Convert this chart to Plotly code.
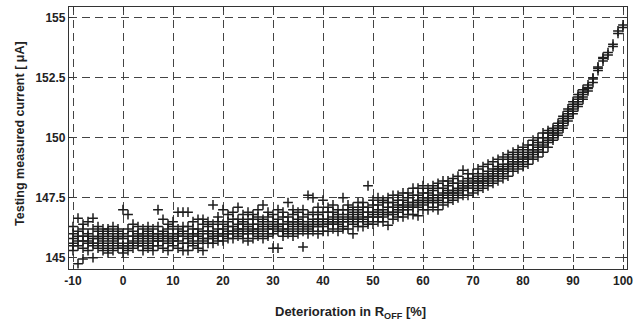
import plotly.graph_objects as go

# Deterioration in R_OFF [%] (x positions) and measured current readings [µA] at each
deterioration = list(range(-10, 101))
current_groups = [
    [145.3, 145.6, 145.8, 146.0, 146.3, 145.5],   # -10
    [144.75, 145.5, 145.9, 146.1, 146.65, 145.7], # -9
    [144.95, 145.4, 145.7, 146.2, 146.4, 145.9],  # -8
    [145.3, 145.6, 145.9, 146.0, 146.5, 145.7],   # -7
    [145.0, 145.5, 145.8, 146.2, 146.65, 145.6],  # -6
    [145.4, 145.6, 145.9, 146.1, 146.3, 145.8],   # -5
    [145.3, 145.5, 145.8, 146.0, 146.2, 145.7],   # -4
    [145.2, 145.6, 145.9, 146.2, 146.1, 145.4],   # -3
    [145.3, 145.7, 145.8, 146.0, 146.3, 145.5],   # -2
    [145.4, 145.6, 145.9, 146.1, 146.2, 145.8],   # -1
    [145.2, 145.5, 145.8, 146.0, 147.0, 145.4],   # 0
    [145.3, 145.6, 145.9, 146.2, 146.8, 145.5],   # 1
    [145.4, 145.7, 145.9, 146.1, 146.4, 145.6],   # 2
    [145.5, 145.8, 146.0, 146.3, 145.6, 145.9],   # 3
    [145.3, 145.7, 145.9, 146.2, 146.0, 145.5],   # 4
    [145.4, 145.6, 145.8, 146.1, 146.3, 145.9],   # 5
    [145.3, 145.7, 145.9, 146.0, 146.2, 145.5],   # 6
    [145.5, 145.8, 146.0, 146.3, 147.0, 145.7],   # 7
    [145.4, 145.7, 145.9, 146.1, 146.6, 146.0],   # 8
    [145.3, 145.6, 145.9, 146.2, 146.4, 145.8],   # 9
    [145.5, 145.8, 146.0, 146.3, 146.5, 145.7],   # 10
    [145.4, 145.7, 146.0, 146.2, 146.9, 145.9],   # 11
    [145.3, 145.6, 145.9, 146.1, 146.9, 146.3],   # 12
    [145.3, 145.8, 146.0, 146.3, 146.9, 145.6],   # 13
    [145.5, 145.7, 146.0, 146.2, 146.5, 145.9],   # 14
    [145.4, 145.6, 145.9, 146.2, 146.6, 146.0],   # 15
    [145.3, 145.8, 146.1, 146.4, 146.6, 145.7],   # 16
    [145.6, 145.8, 146.0, 146.3, 146.5, 146.1],   # 17
    [145.6, 145.9, 146.1, 146.4, 147.2, 145.8],   # 18
    [145.7, 145.9, 146.2, 146.5, 146.7, 146.0],   # 19
    [145.7, 146.0, 146.2, 146.4, 147.0, 145.9],   # 20
    [145.8, 146.0, 146.3, 146.5, 146.8, 146.1],   # 21
    [145.8, 146.1, 146.3, 146.6, 146.9, 146.0],   # 22
    [145.9, 146.1, 146.4, 146.6, 147.1, 146.2],   # 23
    [145.8, 146.0, 146.2, 146.5, 146.8, 146.4],   # 24
    [145.7, 146.0, 146.3, 146.6, 146.9, 146.1],   # 25
    [145.8, 146.1, 146.4, 146.6, 146.8, 146.2],   # 26
    [145.9, 146.2, 146.4, 146.7, 147.0, 146.0],   # 27
    [145.8, 146.1, 146.3, 146.6, 147.2, 146.5],   # 28
    [145.9, 146.2, 146.4, 146.7, 146.9, 146.0],   # 29
    [145.4, 146.0, 146.3, 146.5, 146.8, 146.2],   # 30
    [145.4, 146.1, 146.4, 146.6, 147.0, 146.3],   # 31
    [145.9, 146.2, 146.4, 146.7, 146.9, 146.1],   # 32
    [146.0, 146.2, 146.5, 146.7, 147.3, 146.4],   # 33
    [145.9, 146.3, 146.5, 146.8, 147.0, 146.1],   # 34
    [146.0, 146.2, 146.4, 146.6, 146.9, 146.5],   # 35
    [145.45, 146.1, 146.4, 146.7, 147.0, 146.3],  # 36
    [146.0, 146.3, 146.5, 146.8, 147.6, 146.2],   # 37
    [146.1, 146.3, 146.6, 146.9, 147.5, 146.4],   # 38
    [146.0, 146.3, 146.5, 146.8, 147.1, 146.6],   # 39
    [146.1, 146.4, 146.6, 146.9, 147.4, 146.3],   # 40
    [146.1, 146.4, 146.6, 146.9, 147.1, 146.5],   # 41
    [146.2, 146.5, 146.7, 146.9, 147.2, 146.4],   # 42
    [146.1, 146.4, 146.6, 146.8, 147.0, 146.5],   # 43
    [146.2, 146.5, 146.7, 147.0, 147.5, 146.3],   # 44
    [146.2, 146.5, 146.8, 147.0, 147.2, 146.6],   # 45
    [146.0, 146.4, 146.7, 146.9, 147.1, 146.6],   # 46
    [146.3, 146.6, 146.8, 147.0, 147.3, 146.5],   # 47
    [146.3, 146.6, 146.9, 147.1, 147.3, 146.7],   # 48
    [146.5, 146.7, 146.9, 147.1, 148.0, 146.4],   # 49
    [146.4, 146.7, 146.9, 147.2, 147.4, 146.8],   # 50
    [146.5, 146.7, 147.0, 147.2, 147.5, 146.9],   # 51
    [146.5, 146.8, 147.0, 147.3, 147.4, 146.7],   # 52
    [146.35, 146.8, 147.1, 147.3, 147.5, 146.9],  # 53
    [146.6, 146.9, 147.1, 147.3, 147.6, 146.8],   # 54
    [146.7, 146.9, 147.2, 147.4, 147.6, 147.0],   # 55
    [146.7, 147.0, 147.2, 147.4, 147.7, 147.1],   # 56
    [146.8, 147.0, 147.3, 147.5, 147.7, 147.1],   # 57
    [146.8, 147.1, 147.3, 147.6, 147.9, 147.2],   # 58
    [146.75, 147.1, 147.4, 147.6, 147.9, 147.3],  # 59
    [147.0, 147.2, 147.5, 147.7, 148.0, 147.3],   # 60
    [147.0, 147.3, 147.5, 147.7, 147.9, 147.4],   # 61
    [147.1, 147.3, 147.6, 147.8, 148.0, 147.5],   # 62
    [147.0, 147.4, 147.6, 147.9, 148.1, 147.3],   # 63
    [147.2, 147.5, 147.7, 147.9, 148.2, 147.6],   # 64
    [147.3, 147.5, 147.8, 148.0, 148.2, 147.7],   # 65
    [147.4, 147.6, 147.8, 148.1, 148.3, 147.7],   # 66
    [147.5, 147.7, 147.9, 148.1, 148.4, 147.8],   # 67
    [147.6, 147.8, 148.0, 148.2, 148.65, 147.9],  # 68
    [147.6, 147.9, 148.1, 148.3, 148.5, 148.0],   # 69
    [147.7, 147.9, 148.1, 148.3, 148.5, 148.2],   # 70
    [147.8, 148.0, 148.2, 148.4, 148.7, 148.1],   # 71
    [147.9, 148.1, 148.3, 148.5, 148.8, 148.2],   # 72
    [148.0, 148.2, 148.4, 148.6, 148.9, 148.3],   # 73
    [148.1, 148.3, 148.5, 148.7, 149.0, 148.4],   # 74
    [148.2, 148.4, 148.6, 148.8, 149.1, 148.7],   # 75
    [148.3, 148.5, 148.7, 148.9, 149.2, 148.6],   # 76
    [148.4, 148.7, 148.9, 149.1, 149.3, 148.8],   # 77
    [148.6, 148.8, 149.0, 149.2, 149.4, 148.9],   # 78
    [148.7, 148.9, 149.1, 149.3, 149.5, 149.0],   # 79
    [148.8, 149.0, 149.2, 149.4, 149.6, 149.1],   # 80
    [148.9, 149.1, 149.3, 149.5, 149.7, 149.2],   # 81
    [149.1, 149.3, 149.5, 149.7, 149.9, 149.4],   # 82
    [149.2, 149.4, 149.6, 149.8, 150.0, 149.5],   # 83
    [149.4, 149.6, 149.8, 150.0, 150.2, 149.7],   # 84
    [149.6, 149.8, 150.0, 150.2, 150.3, 149.9],   # 85
    [149.9, 150.0, 150.2, 150.4, 150.1, 150.3],   # 86
    [150.1, 150.3, 150.5, 150.6, 150.4, 150.2],   # 87
    [150.4, 150.6, 150.8, 150.9, 150.7, 150.5],   # 88
    [150.7, 150.9, 151.1, 151.2, 151.0, 150.8],   # 89
    [151.0, 151.2, 151.4, 151.5, 151.3, 151.1],   # 90
    [151.3, 151.5, 151.7, 151.6, 151.4, 151.8],   # 91
    [151.6, 151.8, 151.9, 152.0, 151.7],          # 92
    [151.95, 152.1, 152.2, 152.05],               # 93
    [152.3, 152.45, 152.5],                       # 94
    [152.8, 152.9, 152.95],                       # 95
    [153.2, 153.3, 153.35],                       # 96
    [153.45, 153.55],                             # 97
    [153.8, 153.9],                               # 98
    [154.35, 154.45],                             # 99
    [154.6, 154.7],                               # 100
]

x_ticks = [-10, 0, 10, 20, 30, 40, 50, 60, 70, 80, 90, 100]
y_ticks = [145, 147.5, 150, 152.5, 155]
y_tick_labels = ["145", "147.5", "150", "152.5", "155"]

xs, ys = [], []
for xv, grp in zip(deterioration, current_groups):
    for yv in grp:
        xs.append(xv)
        ys.append(yv)

fig = go.Figure(go.Scatter(
    x=xs, y=ys, mode="markers",
    marker=dict(symbol="cross-thin", size=7, color="#1e1e1e",
                line=dict(width=1.5, color="#1e1e1e")),
    showlegend=False,
))

FAM = "Liberation Sans, Arial, sans-serif"
axis_common = dict(
    showline=True, linecolor="#333", linewidth=1.3, mirror="ticks",
    ticks="inside", ticklen=4, tickcolor="#333",
    showgrid=True, gridcolor="#444", gridwidth=1, griddash="8px,5px",
    zeroline=False, automargin=False,
    tickfont=dict(family=FAM, size=12, color="#222"),
)

fig.update_layout(
    width=641, height=326,
    margin=dict(l=69, r=14, t=7, b=57),
    paper_bgcolor="white", plot_bgcolor="white",
    font=dict(family=FAM, size=12, color="#222"),
    xaxis=dict(range=[-10.8, 100.8], tickvals=x_ticks,
               ticktext=[f"<b>{t}</b>" for t in x_ticks], **axis_common),
    yaxis=dict(range=[144.53, 155.45], tickvals=y_ticks,
               ticktext=[f"<b>{t}</b>" for t in y_tick_labels], **axis_common),
    annotations=[
        dict(text="<b>Deterioration in R<sub>OFF</sub> [%]</b>", xref="paper", yref="paper",
             x=0.505, y=-0.165, xanchor="center", yanchor="middle", showarrow=False,
             font=dict(family=FAM, size=13, color="#222")),
        dict(text="<b>Testing measured current [ μA]</b>", xref="paper", yref="paper",
             x=-0.088, y=0.519, xanchor="center", yanchor="middle", textangle=-90,
             showarrow=False, font=dict(family=FAM, size=12.5, color="#222")),
    ],
)

fig.write_html("out.html", config={"displayModeBar": False},
               post_script="document.body.style.margin='0';")
